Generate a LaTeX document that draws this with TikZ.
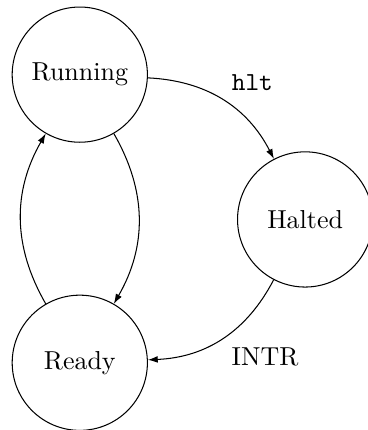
\documentclass[tikz,border=0pt]{standalone}
\usepackage{tikz}
\usetikzlibrary{positioning, arrows.meta}

\begin{document}
\begin{tikzpicture}[
                state/.style={circle, draw, minimum size=1.83cm},
                trans/.style={-{Latex[length=3.8pt, width=2.6pt]}, bend left=30}
            ]
                \useasboundingbox (-1.08, 1.01) rectangle (3.90, -4.81);

                % States
                \node[state] (running) at (0, 0) {Running};
                \node[state] (halted) at (3.05, -1.96) {Halted};
                \node[state] (ready) at (0, -3.90) {Ready};

                % Transitions
                \draw[trans] (running) to node[auto] {\texttt{hlt}} (halted);
                \draw[trans] (halted) to node[auto] {INTR} (ready);
                \draw[trans] (running) to (ready);
                \draw[trans] (ready) to (running);
            \end{tikzpicture}
\end{document}
